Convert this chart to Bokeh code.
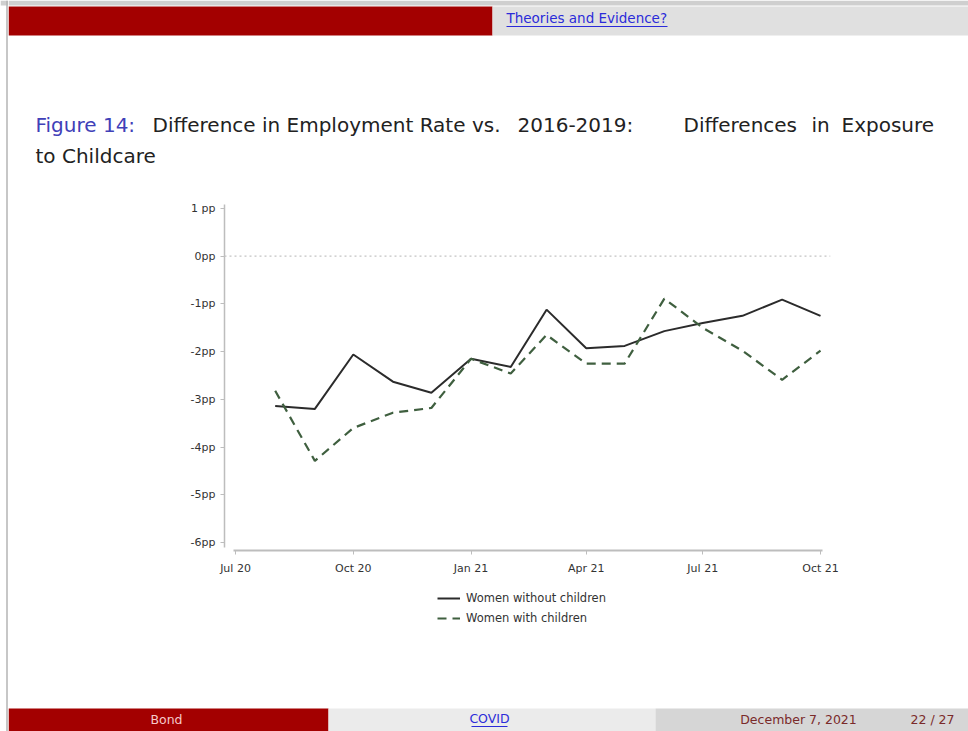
import pandas as pd
from bokeh.plotting import figure
from bokeh.models import Range1d, FixedTicker, DatetimeTickFormatter, Span, Legend, LegendItem
from bokeh.layouts import column, row
from bokeh.core.properties import value
from bokeh.embed import file_html
from bokeh.resources import INLINE

# ---------------- data ----------------
months = ["Aug 20", "Sep 20", "Oct 20", "Nov 20", "Dec 20", "Jan 21", "Feb 21", "Mar 21",
          "Apr 21", "May 21", "Jun 21", "Jul 21", "Aug 21", "Sep 21", "Oct 21"]
without_children = [-3.14, -3.20, -2.06, -2.63, -2.86, -2.15, -2.32, -1.12,
                    -1.93, -1.88, -1.57, -1.40, -1.25, -0.91, -1.25]
with_children = [-2.82, -4.29, -3.60, -3.28, -3.18, -2.15, -2.46, -1.65,
                 -2.25, -2.25, -0.89, -1.50, -1.98, -2.59, -1.98]
series_labels = ["Women without children", "Women with children"]
y_ticks = [1, 0, -1, -2, -3, -4, -5, -6]
y_tick_labels = ["1 pp", "0pp", "-1pp", "-2pp", "-3pp", "-4pp", "-5pp", "-6pp"]
x_tick_months = ["Jul 20", "Oct 20", "Jan 21", "Apr 21", "Jul 21", "Oct 21"]

title_parts = ["Figure 14:", "Difference in Employment Rate vs.", "2016-2019:",
               "Differences", "in", "Exposure"]
title_line2 = "to Childcare"
header_link = "Theories and Evidence?"
footer_author = "Bond"
footer_title = "COVID"
footer_date = "December 7, 2021"
footer_page = "22 / 27"

FONT = value("DejaVu Sans")
RED = "#a30000"
BLUE = "#2b2bd9"
SOLID_COLOR = "#2b2b2b"
DASH_COLOR = "#3f5f3f"
NAN = float("nan")


def ms(ts):
    return ts.value / 1e6


def panel(w, h, x0, x1, y0, y1):
    f = figure(width=w, height=h, x_range=Range1d(x0, x1), y_range=Range1d(y1, y0),
               output_backend="svg", toolbar_location=None,
               x_axis_location=None, y_axis_location=None, min_border=0,
               frame_align=False)
    f.outline_line_color = None
    f.grid.visible = False
    f.background_fill_color = "white"
    f.border_fill_color = "white"
    return f


# ---------------- left strip (slide border) ----------------
strip = panel(8, 731, 0, 8, 0, 731)
strip.quad(left=[0], right=[8], top=[0], bottom=[5], fill_color="#cfcfcf", line_color=None)
strip.segment(x0=[6.5], y0=[0], x1=[6.5], y1=[731], line_color="#b4b4b4", line_width=1.5)

# ---------------- header ----------------
head = panel(960, 40, 8, 968, 0, 40)
head.quad(left=[8], right=[968], top=[0], bottom=[5], fill_color="#cfcfcf", line_color=None)
head.quad(left=[8], right=[492], top=[6], bottom=[35], fill_color=RED, line_color=None)
head.quad(left=[492], right=[968], top=[6], bottom=[35], fill_color="#e0e0e0", line_color=None)
head.text(x=[506], y=[17], text=[header_link], text_font=FONT, text_font_size="13.5px",
          text_color=BLUE, text_align="left", text_baseline="middle")
head.segment(x0=[506], y0=[26], x1=[667], y1=[26], line_color=BLUE, line_width=1.2)

# ---------------- title ----------------
tit = panel(960, 130, 8, 968, 40, 170)
tx = [35, 152, 517, 683, 811, 841]
tcol = ["#4040b8"] + ["#222222"] * 5
tit.text(x=tx, y=[124] * 6, text=title_parts, text_font=FONT, text_font_size="20px",
         text_color=tcol, text_align="left", text_baseline="alphabetic")
tit.text(x=[35], y=[155], text=[title_line2], text_font=FONT, text_font_size="20px",
         text_color="#222222", text_align="left", text_baseline="alphabetic")

# ---------------- chart ----------------
dates = pd.to_datetime(months, format="%b %y")
tick_dates = pd.to_datetime(x_tick_months, format="%b %y")
x_start = ms(tick_dates[0] - pd.Timedelta(days=8.6))
x_end = ms(tick_dates[-1] + pd.Timedelta(days=7.8))

p = figure(width=960, height=415, x_axis_type="datetime",
           x_range=Range1d(x_start, x_end), y_range=Range1d(-6.168, 1.105),
           output_backend="svg", toolbar_location=None, frame_align=False,
           min_border_left=216, min_border_right=138, min_border_top=33, min_border_bottom=35)
p.outline_line_color = None
p.grid.visible = False
p.background_fill_color = "white"
p.border_fill_color = "white"

p.add_layout(Span(location=0, dimension="width", line_color="#c4c4c4",
                  line_dash="2 3", line_width=1.2))

p.line(dates, without_children, line_color=SOLID_COLOR, line_width=2)
p.line(dates, with_children, line_color=DASH_COLOR, line_width=2.2, line_dash="9 6")

# axes
p.yaxis.ticker = FixedTicker(ticks=y_ticks)
p.yaxis.major_label_overrides = {t: l for t, l in zip(y_ticks, y_tick_labels)}
p.yaxis.bounds = (-6.1, 1.08)
p.xaxis.ticker = FixedTicker(ticks=[ms(t) for t in tick_dates])
fmt = "%b %y"
p.xaxis.formatter = DatetimeTickFormatter(months=fmt, days=fmt, years=fmt, hours=fmt,
                                          hourmin=fmt, minutes=fmt, minsec=fmt,
                                          seconds=fmt, milliseconds=fmt, microseconds=fmt)
p.xaxis.bounds = (ms(tick_dates[0] - pd.Timedelta(days=1.5)),
                  ms(tick_dates[-1] + pd.Timedelta(days=1.5)))
for ax in (p.xaxis[0], p.yaxis[0]):
    ax.axis_line_color = "#bdbdbd"
    ax.axis_line_width = 1.5
    ax.major_tick_line_color = "#bdbdbd"
    ax.major_tick_in = 0
    ax.major_tick_out = 4
    ax.minor_tick_line_color = None
    ax.major_label_text_font = "DejaVu Sans"
    ax.major_label_text_font_size = "11px"
    ax.major_label_text_color = "#333333"
p.xaxis.axis_line_width = 2
p.yaxis.major_label_standoff = 5
p.xaxis.major_label_standoff = 7

# ---------------- legend (own panel below the chart) ----------------
leg = panel(960, 120, 8, 968, 585, 705)
l1 = leg.line(x=[NAN], y=[NAN], line_color=SOLID_COLOR, line_width=2)
l2 = leg.line(x=[NAN], y=[NAN], line_color=DASH_COLOR, line_width=2.2, line_dash="9 6")
legend = Legend(items=[LegendItem(label=series_labels[0], renderers=[l1]),
                       LegendItem(label=series_labels[1], renderers=[l2])],
                location=(429, 80), orientation="vertical")
legend.border_line_color = None
legend.background_fill_alpha = 0
legend.padding = 0
legend.margin = 0
legend.spacing = 6
legend.glyph_width = 23
legend.glyph_height = 14
legend.label_standoff = 6
legend.label_height = 14
legend.label_text_font = "DejaVu Sans"
legend.label_text_font_size = "11.5px"
legend.label_text_color = "#333333"
leg.add_layout(legend)

# ---------------- footer ----------------
foot = panel(960, 26, 8, 968, 705, 731)
foot.quad(left=[8], right=[328], top=[708], bottom=[731], fill_color=RED, line_color=None)
foot.quad(left=[328], right=[655], top=[708], bottom=[731], fill_color="#ebebeb", line_color=None)
foot.quad(left=[655], right=[968], top=[708], bottom=[731], fill_color="#d6d6d6", line_color=None)
foot.text(x=[166], y=[719], text=[footer_author], text_font=FONT, text_font_size="12.5px",
          text_color="#f6caca", text_align="center", text_baseline="middle")
foot.text(x=[489], y=[718], text=[footer_title], text_font=FONT, text_font_size="12.5px",
          text_color=BLUE, text_align="center", text_baseline="middle")
foot.segment(x0=[471], y0=[726], x1=[507], y1=[726], line_color=BLUE, line_width=1.2)
foot.text(x=[798], y=[719], text=[footer_date], text_font=FONT, text_font_size="12.5px",
          text_color="#7a2a2a", text_align="center", text_baseline="middle")
foot.text(x=[932], y=[719], text=[footer_page], text_font=FONT, text_font_size="12.5px",
          text_color="#7a2a2a", text_align="center", text_baseline="middle")

layout = row(strip, column(head, tit, p, leg, foot))
open("out.html", "w").write(file_html(layout, INLINE))
